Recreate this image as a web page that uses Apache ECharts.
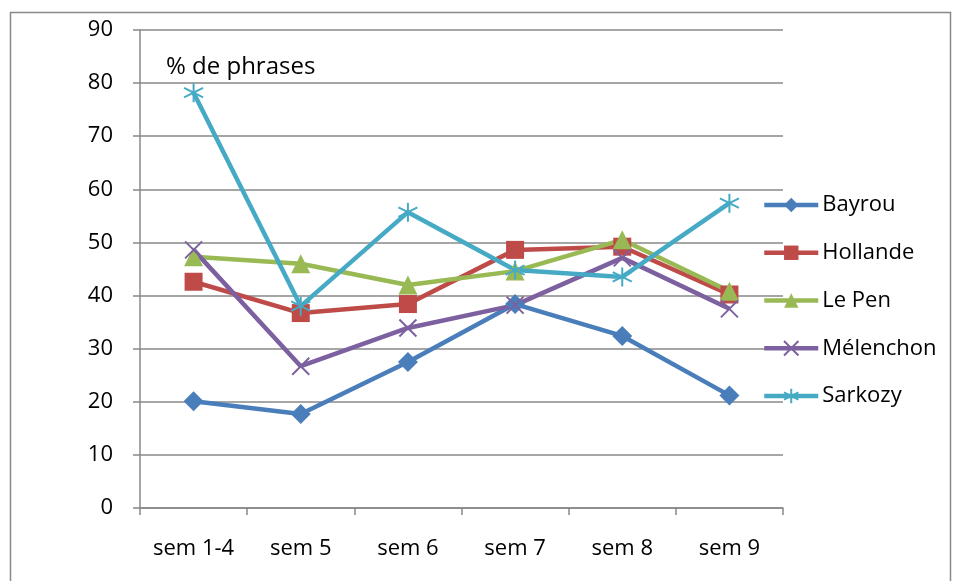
<!DOCTYPE html>
<html>
<head>
<meta charset="utf-8">
<script src="https://cdn.jsdelivr.net/npm/echarts@6/dist/echarts.min.js"></script>
<style>
  html, body { margin: 0; padding: 0; background: #fff; }
  #chart { width: 955px; height: 581px; }
</style>
</head>
<body>
<div id="chart"></div>
<script>
var weeks = ['sem 1-4', 'sem 5', 'sem 6', 'sem 7', 'sem 8', 'sem 9'];
var bayrou = [20.1, 17.7, 27.5, 38.4, 32.4, 21.2];
var hollande = [42.6, 36.7, 38.4, 48.6, 49.2, 40.2];
var lepen = [47.3, 46.0, 42.0, 44.6, 50.5, 40.8];
var melenchon = [48.6, 26.7, 33.9, 38.2, 47.1, 37.5];
var sarkozy = [78.2, 38.0, 55.7, 44.8, 43.5, 57.4];

var font = '"Open Sans", sans-serif';
var crossPath = 'path://M0,0L10,10M10,0L0,10';
var starPath = 'path://M5,0L5,10M0,2.5L10,7.5M10,2.5L0,7.5';

function line(name, data, color, symbol, size, stroke) {
    return {
        name: name,
        type: 'line',
        data: data,
        symbol: symbol,
        symbolSize: size,
        lineStyle: { color: color, width: 4.5 },
        itemStyle: stroke
            ? { color: 'rgba(0,0,0,0)', borderColor: color, borderWidth: 2 }
            : { color: color },
        emphasis: { disabled: true }
    };
}

var chart = echarts.init(document.getElementById('chart'));
chart.setOption({
    animation: false,
    backgroundColor: '#fff',
    grid: { left: 140, top: 30, right: 172, bottom: 73 },
    graphic: [{
        type: 'rect',
        shape: { x: 10.5, y: 12.5, width: 940, height: 580 },
        style: { fill: 'none', stroke: '#888', lineWidth: 1.5 },
        silent: true
    }],
    title: {
        text: '% de phrases',
        left: 166, top: 55,
        padding: 0,
        textStyle: { fontFamily: font, fontSize: 24, fontWeight: 'normal', color: '#000' }
    },
    legend: {
        orient: 'vertical',
        left: 762, top: 194,
        padding: 0,
        itemWidth: 54, itemHeight: 18, itemGap: 25.75,
        lineStyle: { width: 4.5 },
        textStyle: { fontFamily: font, fontSize: 22, lineHeight: 20, color: '#000', padding: [0, 0, 0, -1] },
        data: ['Bayrou', 'Hollande', 'Le Pen', 'Mélenchon', 'Sarkozy']
    },
    xAxis: {
        type: 'category',
        data: weeks,
        boundaryGap: true,
        axisLine: { lineStyle: { color: '#888', width: 1.5 } },
        axisTick: { show: true, length: 7, lineStyle: { color: '#888', width: 1.5 } },
        axisLabel: { margin: 30, fontFamily: font, fontSize: 22, color: '#000' }
    },
    yAxis: {
        type: 'value',
        min: 0, max: 90, interval: 10,
        axisLine: { show: true, lineStyle: { color: '#888', width: 1.5 } },
        axisTick: { show: true, length: 7, lineStyle: { color: '#888', width: 1.5 } },
        splitLine: { lineStyle: { color: '#888', width: 1.5 } },
        axisLabel: { margin: 27, fontFamily: font, fontSize: 22, color: '#000' }
    },
    series: [
        line('Bayrou', bayrou, '#4A7EBB', 'diamond', 20, false),
        line('Hollande', hollande, '#BE4B48', 'rect', 18, false),
        line('Le Pen', lepen, '#98B954', 'triangle', 19, false),
        line('Mélenchon', melenchon, '#7D60A0', crossPath, 17, true),
        line('Sarkozy', sarkozy, '#46AAC5', starPath, 19, true)
    ]
});
</script>
</body>
</html>
